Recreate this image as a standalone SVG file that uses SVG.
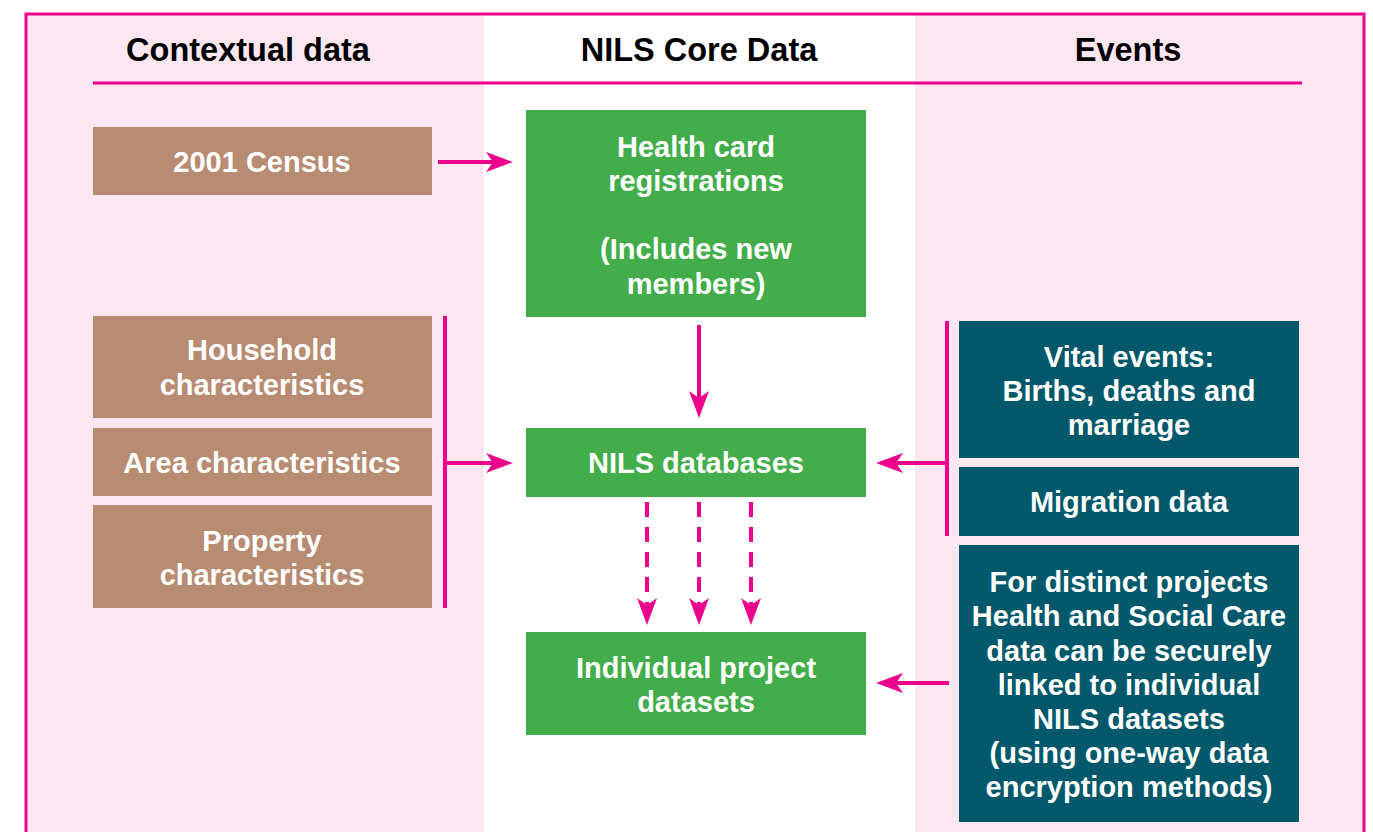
<svg xmlns="http://www.w3.org/2000/svg" width="1373" height="832" viewBox="0 0 1373 832">
<defs>
<style>
.hdr{font-family:"Liberation Sans",Arial,sans-serif;font-weight:bold;font-size:32.5px;fill:#000;text-anchor:middle}
.t{font-family:"Liberation Sans",Arial,sans-serif;font-weight:bold;font-size:29px;fill:#fff;text-anchor:middle}
.brown{fill:#B88B73}
.green{fill:#42AD4A}
.teal{fill:#03596B}
.conn{stroke:#EC008C;stroke-width:4;fill:none}
.dash{stroke-dasharray:15 10}
</style>
<marker id="ah" markerUnits="userSpaceOnUse" viewBox="0 0 27 20" markerWidth="27" markerHeight="20" refX="7" refY="10" orient="auto">
<path d="M0,0 L27,10 L0,20 L7,10 Z" fill="#EC008C"/>
</marker>
</defs>
<rect x="0" y="0" width="1373" height="832" fill="#fff"/>
<g id="background">
<rect x="26" y="14" width="458" height="830" fill="#FCE6F0"/>
<rect x="915" y="14" width="449" height="830" fill="#FCE6F0"/>
<path d="M26,845 V14 H1364 V845" fill="none" stroke="#EC008C" stroke-width="3"/>
<line x1="93" y1="83" x2="1302" y2="83" stroke="#EC008C" stroke-width="3"/>
<text class="hdr" x="248" y="61">Contextual data</text>
<text class="hdr" x="699" y="61">NILS Core Data</text>
<text class="hdr" x="1128" y="61">Events</text>
</g>
<g id="census"><rect class="brown" x="93" y="127" width="339" height="68"/><text class="t" x="262" y="172">2001 Census</text></g>
<g id="household"><rect class="brown" x="93" y="316" width="339" height="102"/><text class="t" x="262" y="360">Household</text><text class="t" x="262" y="395">characteristics</text></g>
<g id="area"><rect class="brown" x="93" y="428" width="339" height="68"/><text class="t" x="262" y="473">Area characteristics</text></g>
<g id="property"><rect class="brown" x="93" y="505" width="339" height="103"/><text class="t" x="262" y="551">Property</text><text class="t" x="262" y="585">characteristics</text></g>
<g id="healthcard"><rect class="green" x="526" y="110" width="340" height="207"/><text class="t" x="696" y="157">Health card</text><text class="t" x="696" y="191">registrations</text><text class="t" x="696" y="259">(Includes new</text><text class="t" x="696" y="294">members)</text></g>
<g id="nilsdb"><rect class="green" x="526" y="428" width="340" height="69"/><text class="t" x="696" y="473">NILS databases</text></g>
<g id="projects"><rect class="green" x="526" y="632" width="340" height="103"/><text class="t" x="696" y="678">Individual project</text><text class="t" x="696" y="712">datasets</text></g>
<g id="vital"><rect class="teal" x="959" y="321" width="340" height="137"/><text class="t" x="1129" y="367">Vital events:</text><text class="t" x="1129" y="401">Births, deaths and</text><text class="t" x="1129" y="435">marriage</text></g>
<g id="migration"><rect class="teal" x="959" y="467" width="340" height="69"/><text class="t" x="1129" y="512">Migration data</text></g>
<g id="hsc"><rect class="teal" x="959" y="545" width="340" height="277"/>
<text class="t" x="1129" y="592">For distinct projects</text>
<text class="t" x="1129" y="626">Health and Social Care</text>
<text class="t" x="1129" y="661">data can be securely</text>
<text class="t" x="1129" y="695">linked to individual</text>
<text class="t" x="1129" y="729">NILS datasets</text>
<text class="t" x="1129" y="763">(using one-way data</text>
<text class="t" x="1129" y="797">encryption methods)</text>
</g>
<g id="connectors">
<line class="conn" x1="438" y1="162" x2="493" y2="162" marker-end="url(#ah)"/>
<line class="conn" x1="445" y1="316" x2="445" y2="608"/>
<line class="conn" x1="445" y1="463" x2="493" y2="463" marker-end="url(#ah)"/>
<line class="conn" x1="947" y1="321" x2="947" y2="536"/>
<line class="conn" x1="947" y1="463" x2="896" y2="463" marker-end="url(#ah)"/>
<line class="conn" x1="949" y1="683" x2="896" y2="683" marker-end="url(#ah)"/>
<line class="conn" x1="699" y1="325" x2="699" y2="398" marker-end="url(#ah)"/>
<line class="conn dash" x1="647" y1="502" x2="647" y2="605" marker-end="url(#ah)"/>
<line class="conn dash" x1="699" y1="502" x2="699" y2="605" marker-end="url(#ah)"/>
<line class="conn dash" x1="751" y1="502" x2="751" y2="605" marker-end="url(#ah)"/>
</g>
</svg>
